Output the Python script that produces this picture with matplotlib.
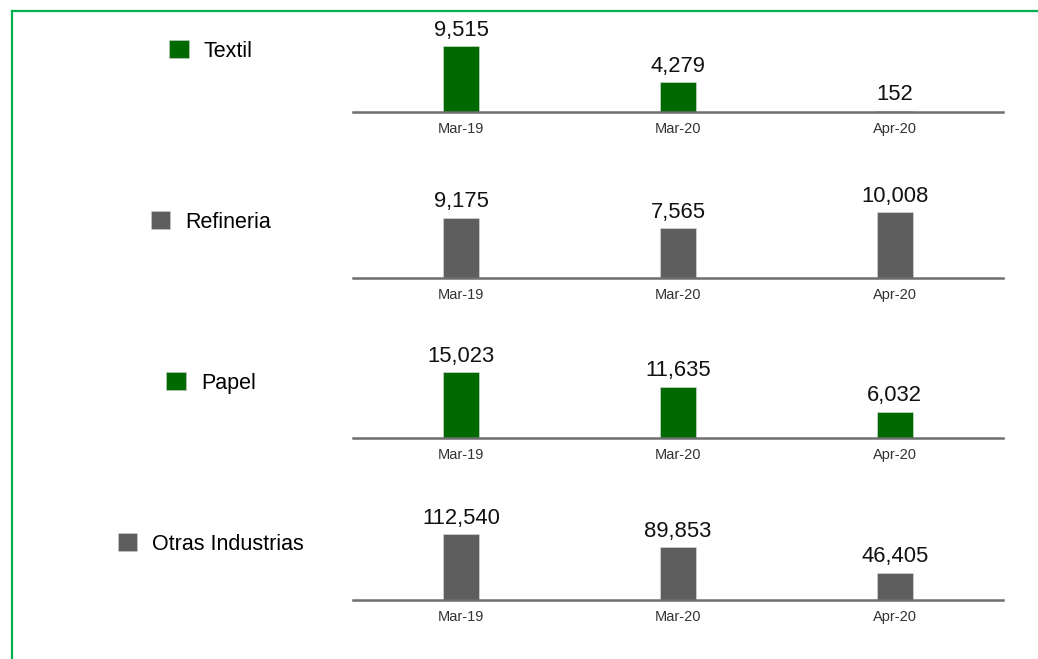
import matplotlib
matplotlib.use('Agg')
import matplotlib.pyplot as plt
from matplotlib.patches import Patch
from matplotlib.lines import Line2D

plt.rcParams['font.family'] = ['Liberation Sans', 'DejaVu Sans']

periods = ['Mar-19', 'Mar-20', 'Apr-20']
industries = ['Textil', 'Refineria', 'Papel', 'Otras Industrias']
textil = [9515, 4279, 152]
refineria = [9175, 7565, 10008]
papel = [15023, 11635, 6032]
otras = [112540, 89853, 46405]
values = [textil, refineria, papel, otras]

GREEN = '#006a00'
GREY = '#5e5e5e'
colors = [GREEN, GREY, GREEN, GREY]

W, H = 1038, 659
fig = plt.figure(figsize=(W / 100, H / 100), dpi=100)

# panel baselines in pixels from the top
baselines = [112, 278, 438, 600]
legend_y = [51, 222, 383, 544]
ax_left, ax_right = 353, 1003
ax_h = 100

for name, vals, col, base, ly in zip(industries, values, colors, baselines, legend_y):
    ax = fig.add_axes([ax_left / W, 1 - base / H, (ax_right - ax_left) / W, ax_h / H])
    bars = ax.bar(range(len(periods)), vals, width=0.166, color=col,
                  edgecolor='#dddddd', linewidth=0.4)
    ax.bar_label(bars, labels=[f'{v:,}' for v in vals], padding=4,
                 fontsize=15.8, color='#111111')
    ax.set_xlim(-0.5, len(periods) - 0.5)
    ax.set_ylim(0, max(vals) * 1.52)
    ax.set_xticks(range(len(periods)))
    ax.set_xticklabels(periods, fontsize=10.5, color='#333333')
    ax.tick_params(axis='x', length=0, pad=7)
    ax.set_yticks([])
    for s in ['top', 'left', 'right']:
        ax.spines[s].set_visible(False)
    ax.spines['bottom'].set_color('#6e6e6e')
    ax.spines['bottom'].set_linewidth(1.8)
    ax.patch.set_alpha(0)

    fig.legend(handles=[Patch(facecolor=col, edgecolor='#cccccc', linewidth=0.4, label=name)],
               loc='center', bbox_to_anchor=(211 / W, 1 - ly / H),
               frameon=False, fontsize=15.5, handlelength=0.9, handleheight=0.9,
               handletextpad=0.7, borderpad=0)

# green frame (top and left edges)
fig.add_artist(Line2D([12 / W, 1], [1 - 11 / H, 1 - 11 / H], color='#00b04f', linewidth=1.6))
fig.add_artist(Line2D([12 / W, 12 / W], [0, 1 - 11 / H], color='#00b04f', linewidth=1.6))

fig.savefig('out.png', dpi=100)
